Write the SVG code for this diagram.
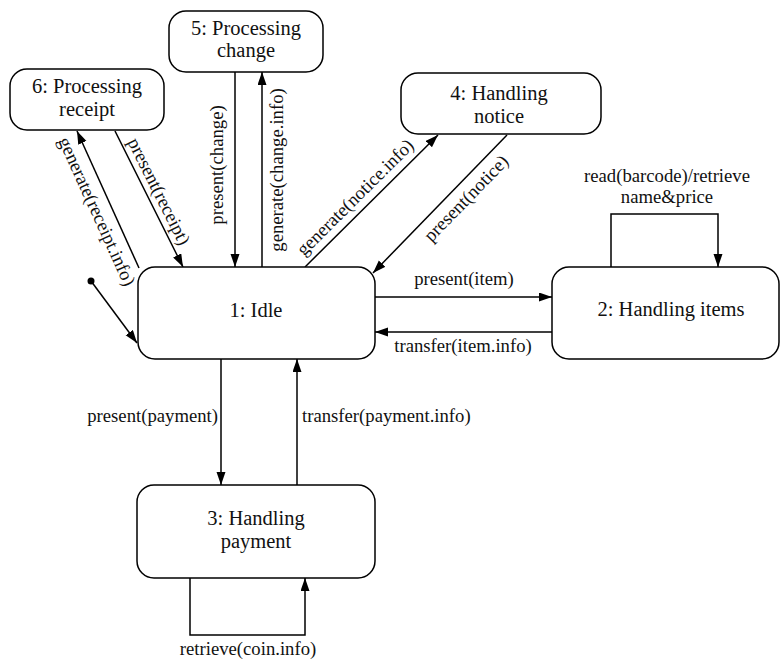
<svg xmlns="http://www.w3.org/2000/svg" width="782" height="662" viewBox="0 0 782 662">
<style>
.node rect{fill:#fff;stroke:#000;stroke-width:1.5}
.nt{font-family:"Liberation Serif","Times New Roman",serif;font-size:20.5px;fill:#111;text-anchor:middle}
.lbl{font-family:"Liberation Serif","Times New Roman",serif;font-size:18.7px;fill:#111;text-anchor:middle}
.edge{fill:none;stroke:#000;stroke-width:1.5;marker-end:url(#ah)}
</style>
<defs>
<marker id="ah" markerUnits="userSpaceOnUse" markerWidth="14" markerHeight="10" refX="13" refY="4.5" orient="auto">
<path d="M0,0 L13,4.5 L0,9 z" fill="#000"/>
</marker>
</defs>
<rect width="782" height="662" fill="#fff"/>
<g id="connectors">
<circle cx="91" cy="281" r="3.5" fill="#000"/>
<line class="edge" x1="91" y1="281" x2="137" y2="343"/>
<line class="edge" x1="139" y1="268" x2="77" y2="131"/>
<line class="edge" x1="115" y1="131" x2="183" y2="267"/>
<line class="edge" x1="235" y1="72" x2="235" y2="267"/>
<line class="edge" x1="262" y1="267" x2="262" y2="72"/>
<line class="edge" x1="305" y1="267" x2="438" y2="135"/>
<line class="edge" x1="507" y1="135" x2="373" y2="273"/>
<line class="edge" x1="375" y1="297" x2="552" y2="297"/>
<line class="edge" x1="552" y1="332" x2="375" y2="332"/>
<path class="edge" d="M611,267 V214 H718 V267"/>
<line class="edge" x1="221" y1="359" x2="221" y2="485"/>
<line class="edge" x1="297" y1="485" x2="297" y2="359"/>
<path class="edge" d="M190,578 V635 H305 V578"/>
<text class="lbl" transform="translate(96,212) rotate(65.6)" y="5">generate(receipt.info)</text>
<text class="lbl" transform="translate(158,192) rotate(63.4)" y="5">present(receipt)</text>
<text class="lbl" transform="translate(218,165) rotate(-90)" y="5">present(change)</text>
<text class="lbl" transform="translate(278,170) rotate(-90)" y="5">generate(change.info)</text>
<text class="lbl" transform="translate(356,198) rotate(-44.8)" y="5">generate(notice.info)</text>
<text class="lbl" transform="translate(467,199) rotate(-45.8)" y="5">present(notice)</text>
<text class="lbl" x="464" y="285">present(item)</text>
<text class="lbl" x="463" y="352">transfer(item.info)</text>
<text class="lbl" x="667" y="182">read(barcode)/retrieve</text>
<text class="lbl" x="667" y="203">name&amp;price</text>
<text class="lbl" x="218" y="422" style="text-anchor:end">present(payment)</text>
<text class="lbl" x="302" y="422" style="text-anchor:start">transfer(payment.info)</text>
<text class="lbl" x="248" y="655">retrieve(coin.info)</text>
</g>
<g id="n1" class="node">
<rect x="138" y="267" width="237" height="92" rx="17"/>
<text class="nt" x="256" y="317">1: Idle</text>
</g>
<g id="n2" class="node">
<rect x="552" y="267" width="227" height="92" rx="17"/>
<text class="nt" x="671" y="316">2: Handling items</text>
</g>
<g id="n3" class="node">
<rect x="137" y="485" width="238" height="93" rx="17"/>
<text class="nt" x="256" y="525">3: Handling</text>
<text class="nt" x="256" y="548">payment</text>
</g>
<g id="n4" class="node">
<rect x="401" y="73" width="200" height="61" rx="17"/>
<text class="nt" x="499" y="100">4: Handling</text>
<text class="nt" x="499" y="123">notice</text>
</g>
<g id="n5" class="node">
<rect x="169" y="11" width="154" height="61" rx="17"/>
<text class="nt" x="246" y="35">5: Processing</text>
<text class="nt" x="246" y="57">change</text>
</g>
<g id="n6" class="node">
<rect x="10" y="69" width="154" height="61" rx="17"/>
<text class="nt" x="87" y="93">6: Processing</text>
<text class="nt" x="87" y="116">receipt</text>
</g>
</svg>
